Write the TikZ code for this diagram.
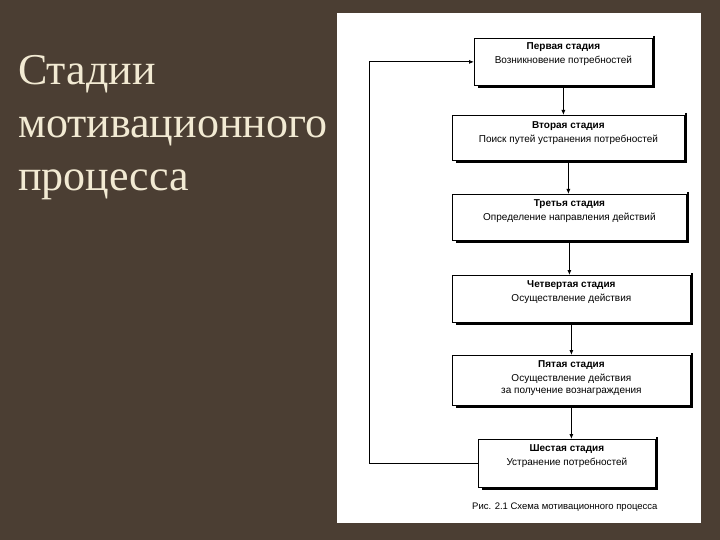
\documentclass[tikz,border=0pt]{standalone}
\usepackage{fontspec}
\setmainfont{Liberation Serif}
\newfontfamily\boxfont{Liberation Sans}
\usetikzlibrary{arrows.meta,positioning}
\definecolor{slide}{HTML}{4B3E33}
\definecolor{cream}{HTML}{F2EAD3}
\definecolor{paper}{HTML}{FFFFFF}

\begin{document}
\begin{tikzpicture}[x=1pt,y=-1pt,>={Latex[length=5pt,width=4pt]},
stagebox/.style={draw=black,line width=0.8pt,fill=white,anchor=north west,inner sep=0pt},
stagetxt/.style={align=center,inner sep=0pt,font=\boxfont\fontsize{10}{14.5}\selectfont},
link/.style={->,line width=0.8pt,black}]

\useasboundingbox (0,0) rectangle (720,540);
\fill[slide] (0,0) rectangle (720,540);
\fill[paper] (337,13) rectangle (701,523);

\node[anchor=base west,align=left,text=cream,inner sep=0pt,font=\fontsize{44}{53}\selectfont] (ttl) at (18,191){Стадии\\мотивационного\\процесса};

% stage boxes
\node[stagebox,minimum width=178,minimum height=47] (s1) at (474,38){};
\node[stagebox,minimum width=232,minimum height=45] (s2) at (452,115){};
\node[stagebox,minimum width=234,minimum height=46] (s3) at (452,194){};
\node[stagebox,minimum width=238,minimum height=47] (s4) at (452,275){};
\node[stagebox,minimum width=238,minimum height=50] (s5) at (452,355){};
\node[stagebox,minimum width=177,minimum height=48] (s6) at (478,439){};

% shadows on right and bottom
\foreach \s in {s1,s2,s3,s4,s5,s6}
  \draw[line width=2pt] ([xshift=1pt,yshift=2pt]\s.north east) -- ([xshift=1pt,yshift=-1pt]\s.south east) -- ([xshift=4pt,yshift=-1pt]\s.south west);

\node[stagetxt,below=4pt of s1.north] (t1){\textbf{Первая стадия}\\Возникновение потребностей};
\node[stagetxt,below=6pt of s2.north] (t2){\textbf{Вторая стадия}\\Поиск путей устранения потребностей};
\node[stagetxt,below=5pt of s3.north] (t3){\textbf{Третья стадия}\\Определение направления действий};
\node[stagetxt,below=5pt of s4.north] (t4){\textbf{Четвертая стадия}\\Осуществление действия};
\node[stagetxt,below=5pt of s5.north] (t5){\textbf{Пятая стадия}\\Осуществление действия\\[-3pt]за получение вознаграждения};
\node[stagetxt,below=5pt of s6.north] (t6){\textbf{Шестая стадия}\\Устранение потребностей};

\draw[link] (s1.south) -- (s1.south |- s2.north);
\draw[link] (s2.south) -- (s2.south |- s3.north);
\draw[link] (s3.south) -- (s3.south |- s4.north);
\draw[link] (s4.south) -- (s4.south |- s5.north);
\draw[link] (s5.south) -- (s5.south |- s6.north);
\draw[link] (s6.west) -- ++(-109,0) |- (s1.west);

\node[anchor=west,inner sep=0pt,font=\boxfont\fontsize{9.5}{11}\selectfont] (cap) at (472,507){Рис. 2.1 Схема мотивационного процесса};
\end{tikzpicture}
\end{document}
